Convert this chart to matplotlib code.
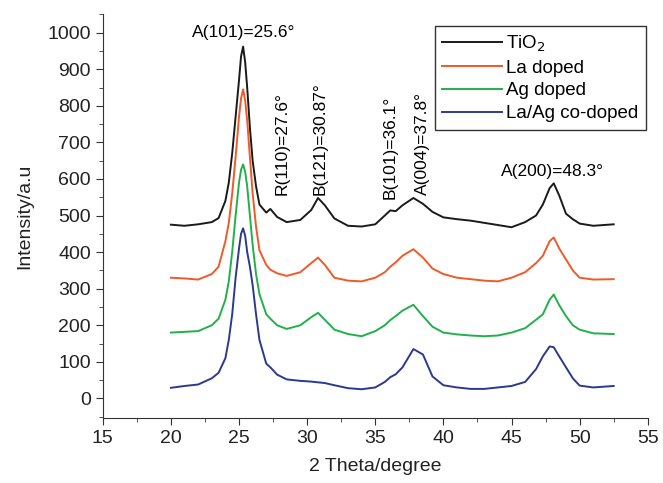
import matplotlib
matplotlib.use('Agg')
import matplotlib.pyplot as plt
from matplotlib.ticker import MultipleLocator

# 2 theta positions (degrees) shared by all patterns
two_theta = [20, 21, 22, 23, 23.5, 24, 24.25, 24.5, 24.75, 25, 25.15, 25.3, 25.45,
             25.6, 25.8, 26, 26.25, 26.5, 27, 27.3, 27.8, 28.5, 29.5, 30.3, 30.8,
             31.3, 32, 33, 34, 35, 35.7, 36.1, 36.5, 37, 37.8, 38.5, 39.2, 40, 41,
             42, 43, 44, 45, 46, 46.8, 47.3, 47.8, 48.1, 48.5, 49, 49.5, 50, 51, 52.5]

# intensities (already offset as plotted)
tio2 = [475, 472, 476, 482, 493, 540, 590, 670, 770, 870, 935, 962, 920,
        850, 740, 650, 580, 530, 508, 518, 496, 482, 488, 515, 548,
        528, 492, 472, 470, 476, 500, 514, 512, 528, 548, 532, 510, 495, 490,
        486, 480, 474, 468, 482, 500, 530, 575, 588, 555, 505, 490, 478, 472, 476]
la_doped = [330, 328, 325, 340, 360, 430, 480, 560, 660, 770, 820, 845, 815,
            760, 660, 560, 470, 405, 365, 352, 342, 335, 345, 370, 385,
            365, 330, 322, 320, 330, 345, 360, 372, 390, 408, 385, 355, 340, 330,
            326, 322, 320, 330, 345, 370, 390, 430, 440, 410, 380, 350, 330, 325, 326]
ag_doped = [180, 182, 184, 200, 218, 270, 320, 400, 500, 590, 625, 640, 620,
            580, 500, 420, 340, 285, 230, 218, 200, 190, 200, 222, 234,
            215, 188, 176, 170, 184, 200, 214, 225, 240, 256, 225, 196, 180, 175,
            172, 170, 172, 180, 192, 215, 230, 270, 284, 255, 225, 200, 188, 178, 176]
la_ag = [29, 34, 38, 55, 70, 110, 160, 230, 330, 410, 450, 465, 445,
         400, 360, 310, 230, 160, 95, 85, 65, 52, 48, 46, 44,
         42, 36, 28, 25, 30, 45, 58, 66, 85, 135, 120, 60, 36, 30,
         26, 26, 30, 34, 45, 80, 115, 142, 140, 115, 85, 55, 35, 30, 34]

series = [('TiO$_2$', tio2, '#1a1a1a'),
          ('La doped', la_doped, '#f05a28'),
          ('Ag doped', ag_doped, '#22b04b'),
          ('La/Ag co-doped', la_ag, '#2b3990')]

# peak labels: text, x, y, rotation
peaks = [('A(101)=25.6°', 25.35, 1000, 0),
         ('R(110)=27.6°', 28.15, 557, 90),
         ('B(121)=30.87°', 30.95, 557, 90),
         ('B(101)=36.1°', 36.1, 544, 90),
         ('A(004)=37.8°', 38.45, 557, 90),
         ('A(200)=48.3°', 48.0, 620, 0)]

plt.rcParams['font.family'] = ['Liberation Sans', 'DejaVu Sans']

fig = plt.figure(figsize=(6.63, 4.83), dpi=100)
ax = fig.add_axes([0.155, 0.135, 0.822, 0.836])

for label, values, color in series:
    ax.plot(two_theta, values, color=color, linewidth=1.4, label=label)

for text, x, y, rot in peaks:
    if rot:
        ax.text(x, y, text, rotation=90, ha='center', va='bottom', fontsize=12.5)
    else:
        ax.text(x, y, text, ha='center', va='center', fontsize=12.5)

ax.set_xlim(15, 55)
ax.set_ylim(-53, 1051)
ax.xaxis.set_major_locator(MultipleLocator(5))
ax.xaxis.set_minor_locator(MultipleLocator(2.5))
ax.yaxis.set_minor_locator(MultipleLocator(50))
ax.set_yticks(range(0, 1001, 100))

for side in ['top', 'right']:
    ax.spines[side].set_visible(False)
for side in ['left', 'bottom']:
    ax.spines[side].set_color('#333333')
ax.tick_params(which='major', direction='out', length=5, labelsize=14,
               colors='#333333', labelcolor='#222222')
ax.tick_params(which='minor', direction='out', length=3, colors='#333333')

ax.set_xlabel('2 Theta/degree', fontsize=14, labelpad=8, color='#222222')
ax.set_ylabel('Intensity/a.u', fontsize=14, labelpad=10, color='#222222')

leg = ax.legend(loc='upper right', bbox_to_anchor=(0.996, 0.970), borderaxespad=0,
                fontsize=13.5, fancybox=False, framealpha=1, edgecolor='#333333',
                handlelength=3.2, labelspacing=0.3, handletextpad=0.2,
                borderpad=0.4)
leg.get_frame().set_linewidth(1.0)

fig.savefig('out.png', dpi=100)
